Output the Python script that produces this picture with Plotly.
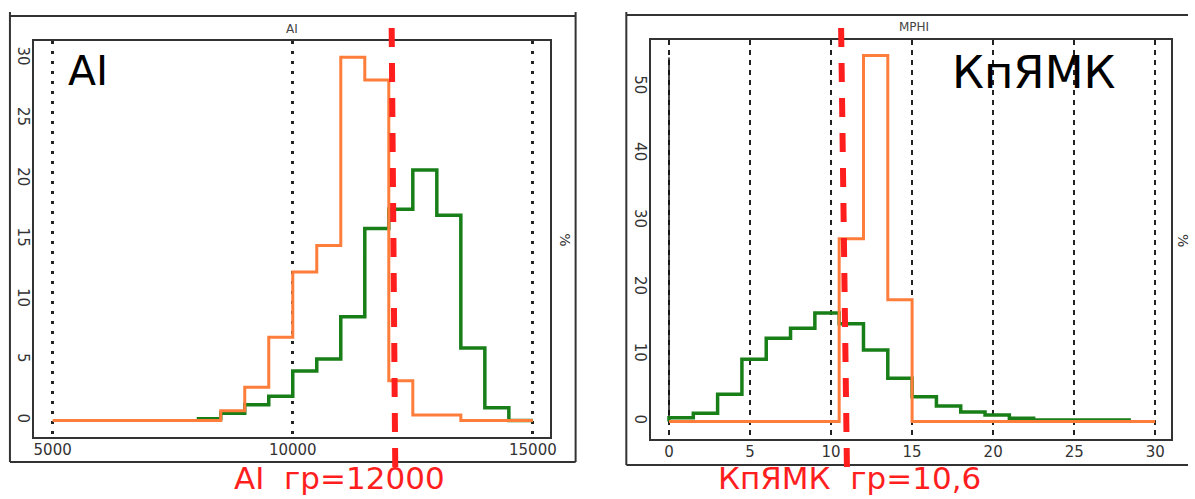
import plotly.graph_objects as go

W, H = 1195, 499

# ---------------- data ----------------
# AI panel (bins of 500 starting at 5000 for orange, 8000 for green)
ai_orange_start = 5000
ai_green_start = 8000
ai_bin_width = 500
ai_orange = [0, 0, 0, 0, 0, 0, 0, 0.8, 2.75, 6.9, 12.3, 14.5, 30.1, 28.2, 3.3, 0.45, 0.45, 0, 0, 0]
ai_green = [0.15, 0.6, 1.3, 2.0, 4.1, 5.1, 8.6, 15.9, 17.5, 20.75, 17.0, 6.0, 1.06, 0]
ai_threshold_top = 12060
ai_threshold_bottom = 12135
ai_xticks = [5000, 10000, 15000]
ai_yticks = [0, 5, 10, 15, 20, 25, 30]

# MPHI panel (bins of 1.5 starting at 0)
mphi_bin_start = 0
mphi_bin_width = 1.5
mphi_orange = [0, 0, 0, 0, 0, 0, 0, 27.3, 54.7, 18.2, 0, 0, 0, 0, 0, 0, 0, 0, 0, 0]
mphi_green = [0.57, 1.23, 4.07, 9.3, 12.45, 13.95, 16.2, 14.6, 10.7, 6.47, 3.7, 2.3, 1.4, 0.97, 0.48, 0.22, 0.22, 0.22, 0.22]
mphi_axis_line_x = [0, 0]
mphi_axis_line_y = [0, 54.4]
mphi_threshold_top = 10.62
mphi_threshold_bottom = 10.98
mphi_xticks = [0, 5, 10, 15, 20, 25, 30]
mphi_yticks = [0, 10, 20, 30, 40, 50]

ORANGE = "#ff7d3a"
GREEN = "#187f18"
RED = "#ff1e1e"
FRAME = "#333333"
FONT = "DejaVu Sans"


def steps(start, width, values, from_zero=False):
    x = [start + i * width for i in range(len(values) + 1)]
    y = list(values) + [values[-1]]
    if from_zero:
        x = [x[0]] + x
        y = [0] + y
    return x, y


def px(v):
    return v / W


def py(v):
    return 1 - v / H


fig = go.Figure()

# left panel traces
gx, gy = steps(ai_green_start, ai_bin_width, ai_green)
fig.add_trace(go.Scatter(x=gx, y=gy, mode="lines", line=dict(color=GREEN, width=3.5, shape="hv"),
                         xaxis="x", yaxis="y", showlegend=False, hoverinfo="skip"))
ox, oy = steps(ai_orange_start, ai_bin_width, ai_orange)
fig.add_trace(go.Scatter(x=ox, y=oy, mode="lines", line=dict(color=ORANGE, width=3, shape="hv"),
                         xaxis="x", yaxis="y", showlegend=False, hoverinfo="skip"))

# right panel traces
fig.add_trace(go.Scatter(x=mphi_axis_line_x, y=mphi_axis_line_y, mode="lines",
                         line=dict(color="#111111", width=1.5), xaxis="x2", yaxis="y2",
                         showlegend=False, hoverinfo="skip"))
gx2, gy2 = steps(mphi_bin_start, mphi_bin_width, mphi_green, from_zero=True)
fig.add_trace(go.Scatter(x=gx2, y=gy2, mode="lines", line=dict(color=GREEN, width=3.5, shape="hv"),
                         xaxis="x2", yaxis="y2", showlegend=False, hoverinfo="skip"))
ox2, oy2 = steps(mphi_bin_start, mphi_bin_width, mphi_orange)
fig.add_trace(go.Scatter(x=ox2, y=oy2, mode="lines", line=dict(color=ORANGE, width=3, shape="hv"),
                         xaxis="x2", yaxis="y2", showlegend=False, hoverinfo="skip"))

tickfont = dict(family=FONT, size=15, color="#333333")

axis_common = dict(showline=True, mirror=True, linewidth=2, linecolor=FRAME,
                   ticks="", zeroline=False, tickfont=tickfont)

fig.update_layout(
    width=W, height=H,
    margin=dict(l=0, r=0, t=0, b=0),
    paper_bgcolor="white", plot_bgcolor="white",
    showlegend=False,
    xaxis=dict(domain=[px(34), px(553)], range=[4607, 15352], anchor="y",
               tickvals=ai_xticks, ticktext=[str(v) for v in ai_xticks],
               ticklabelstandoff=-2,
               showgrid=True, gridcolor="#222222", gridwidth=2.5, griddash="3px,7px",
               **axis_common),
    yaxis=dict(domain=[py(437), py(41)], range=[-1.37, 31.44], anchor="x",
               tickvals=ai_yticks, tickangle=90, ticklabelstandoff=-4,
               showgrid=False, **axis_common),
    xaxis2=dict(domain=[px(655), px(1178)], range=[-1.10, 30.98], anchor="y2",
                tickvals=mphi_xticks, ticklabelstandoff=-2,
                showgrid=True, gridcolor="#222222", gridwidth=2,
                griddash="5px,5px", **axis_common),
    yaxis2=dict(domain=[py(439), py(40)], range=[-2.62, 57.03], anchor="x2",
                tickvals=mphi_yticks, tickangle=90, ticklabelstandoff=-4,
                showgrid=False, **axis_common),
)

shapes = []
# outer frames
fl = dict(color=FRAME, width=2)
shapes += [
    dict(type="line", xref="paper", yref="paper", x0=px(10), x1=px(579), y0=py(16), y1=py(16), line=fl),
    dict(type="line", xref="paper", yref="paper", x0=px(10), x1=px(10), y0=py(12), y1=py(462), line=fl),
    dict(type="line", xref="paper", yref="paper", x0=px(579), x1=px(579), y0=py(12), y1=py(462), line=fl),
    dict(type="line", xref="paper", yref="paper", x0=px(10), x1=px(579), y0=py(462), y1=py(462), line=fl),
    dict(type="line", xref="paper", yref="paper", x0=px(630), x1=px(1195), y0=py(15), y1=py(15), line=fl),
    dict(type="line", xref="paper", yref="paper", x0=px(630), x1=px(630), y0=py(12), y1=py(465), line=fl),
    dict(type="line", xref="paper", yref="paper", x0=px(630), x1=px(1195), y0=py(465), y1=py(465), line=fl),
]
# threshold lines
rl = dict(color=RED, width=6, dash="19px,16px")
shapes += [
    dict(type="line", xref="x", yref="paper", x0=ai_threshold_top, y0=py(28),
         x1=ai_threshold_bottom, y1=py(470), line=rl, layer="above"),
    dict(type="line", xref="x2", yref="paper", x0=mphi_threshold_top, y0=py(28),
         x1=mphi_threshold_bottom, y1=py(470), line=rl, layer="above"),
]
fig.update_layout(shapes=shapes)


def ann(text, x, y, size, color, angle=0, yanchor="middle"):
    return dict(text=text, x=px(x), y=py(y), xref="paper", yref="paper", showarrow=False,
                xanchor="center", yanchor=yanchor, textangle=angle,
                font=dict(family=FONT, size=size, color=color))


fig.update_layout(annotations=[
    ann("AI", 294, 29, 12, "#444444"),
    ann("MPHI", 919, 27, 12, "#444444"),
    ann("AI", 89, 71, 41, "#000000"),
    ann("КпЯМК", 1040, 72, 45, "#000000"),
    ann("AI\u00a0\u00a0гр=12000", 341, 498, 31, RED, yanchor="bottom"),
    ann("КпЯМК\u00a0\u00a0гр=10,6", 855, 498, 31, RED, yanchor="bottom"),
    ann("%", 568, 240, 14, "#333333", 90),
    ann("%", 1190, 240, 14, "#333333", 90),
])

fig.write_html("out.html")
